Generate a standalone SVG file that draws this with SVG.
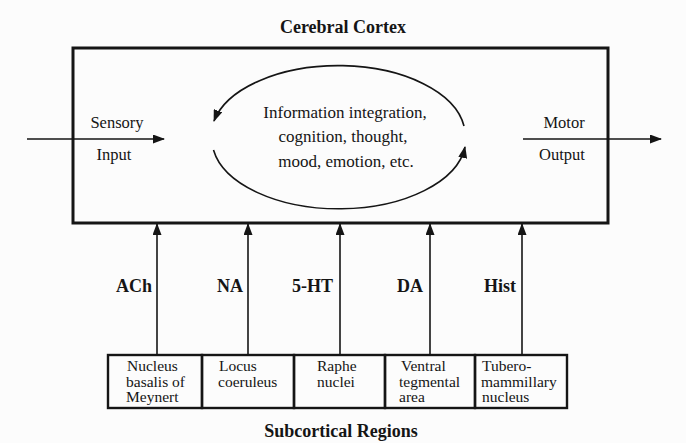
<svg xmlns="http://www.w3.org/2000/svg" width="686" height="443" viewBox="0 0 686 443">
  <style>
    text { font-family: "Liberation Serif", "Times New Roman", serif; fill: #151515; }
    .title { font-size: 18px; font-weight: bold; text-anchor: middle; }
    .lbl { font-size: 16.5px; text-anchor: middle; }
    .mid { font-size: 17px; text-anchor: middle; }
    .nt { font-size: 18px; font-weight: bold; text-anchor: end; }
    .bx { font-size: 13.6px; }
    .frame { fill: none; stroke: #151515; stroke-width: 3; }
    .box { fill: none; stroke: #151515; stroke-width: 2.4; }
    .line { fill: none; stroke: #151515; stroke-width: 1.6; }
  </style>
  <defs>
    <marker id="ah" markerUnits="userSpaceOnUse" markerWidth="12" markerHeight="9" refX="11" refY="4.5" orient="auto">
      <path d="M0,0 L12,4.5 L0,9 z" fill="#151515"/>
    </marker>
  </defs>
  <rect width="686" height="443" fill="#fcfcfc"/>

  <g id="cortex">
    <rect class="frame" x="73" y="48" width="535" height="175"/>
    <text class="title" x="343" y="33">Cerebral Cortex</text>
  </g>

  <g id="integration">
    <text class="mid" x="345" y="118">Information integration,</text>
    <text class="mid" x="343" y="142">cognition, thought,</text>
    <text class="mid" x="346" y="167">mood, emotion, etc.</text>
  </g>

  <g id="sensory">
    <text class="lbl" x="117" y="128">Sensory</text>
    <text class="lbl" x="114" y="160">Input</text>
  </g>

  <g id="motor">
    <text class="lbl" x="564" y="128">Motor</text>
    <text class="lbl" x="562" y="160">Output</text>
  </g>

  <g id="nb">
    <rect class="box" x="108" y="355" width="94" height="53"/>
    <text class="bx" transform="translate(127,371) scale(1.14,1)">Nucleus</text>
    <text class="bx" transform="translate(126,386.5) scale(1.14,1)">basalis of</text>
    <text class="bx" transform="translate(126,402) scale(1.14,1)">Meynert</text>
  </g>
  <g id="lc">
    <rect class="box" x="202" y="355" width="92" height="53"/>
    <text class="bx" transform="translate(219,371) scale(1.14,1)">Locus</text>
    <text class="bx" transform="translate(218,386.5) scale(1.14,1)">coeruleus</text>
  </g>
  <g id="rn">
    <rect class="box" x="294" y="355" width="91" height="53"/>
    <text class="bx" transform="translate(317,371) scale(1.14,1)">Raphe</text>
    <text class="bx" transform="translate(317,386.5) scale(1.14,1)">nuclei</text>
  </g>
  <g id="vta">
    <rect class="box" x="385" y="355" width="90" height="53"/>
    <text class="bx" transform="translate(401,371) scale(1.14,1)">Ventral</text>
    <text class="bx" transform="translate(399,386.5) scale(1.14,1)">tegmental</text>
    <text class="bx" transform="translate(399,402) scale(1.14,1)">area</text>
  </g>
  <g id="tmn">
    <rect class="box" x="475" y="355" width="92" height="53"/>
    <text class="bx" transform="translate(482,371) scale(1.14,1)">Tubero-</text>
    <text class="bx" transform="translate(481,386.5) scale(1.14,1)">mammillary</text>
    <text class="bx" transform="translate(482,402) scale(1.14,1)">nucleus</text>
  </g>

  <g id="subcortical">
    <text class="title" x="341" y="437">Subcortical Regions</text>
  </g>

  <g id="labels">
    <text class="nt" x="152" y="292">ACh</text>
    <text class="nt" x="243" y="292">NA</text>
    <text class="nt" x="333" y="292">5-HT</text>
    <text class="nt" x="423" y="292">DA</text>
    <text class="nt" x="516" y="292">Hist</text>
  </g>

  <g id="connectors">
    <path class="line" d="M464,126 A127,70 0 0 0 214,121" marker-end="url(#ah)"/>
    <path class="line" d="M213.5,150 A127,70 0 0 0 465,147" marker-end="url(#ah)"/>
    <line class="line" x1="27" y1="139" x2="164" y2="139" marker-end="url(#ah)"/>
    <line class="line" x1="523" y1="139" x2="661" y2="139" marker-end="url(#ah)"/>
    <line class="line" x1="157" y1="355" x2="157" y2="224" marker-end="url(#ah)"/>
    <line class="line" x1="248" y1="355" x2="248" y2="224" marker-end="url(#ah)"/>
    <line class="line" x1="340" y1="355" x2="340" y2="224" marker-end="url(#ah)"/>
    <line class="line" x1="430" y1="355" x2="430" y2="224" marker-end="url(#ah)"/>
    <line class="line" x1="522" y1="355" x2="522" y2="224" marker-end="url(#ah)"/>
  </g>
</svg>
